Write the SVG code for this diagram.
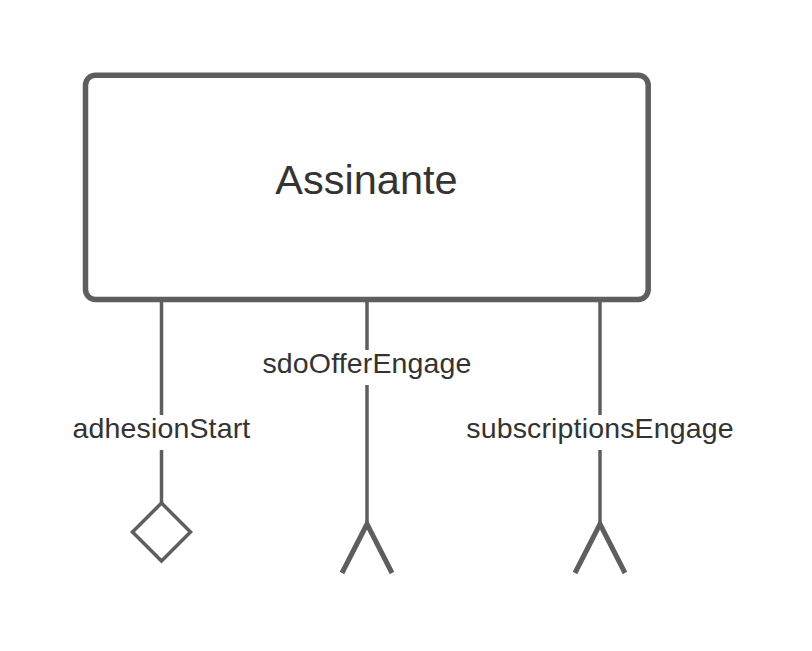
<svg xmlns="http://www.w3.org/2000/svg" width="812" height="651" viewBox="0 0 812 651">
<style>
.box{fill:#ffffff;stroke:#5e5e5e;stroke-width:5.5}
.ln{fill:none;stroke:#5e5e5e;stroke-width:3.5}
.fork{fill:none;stroke:#5e5e5e;stroke-width:5;stroke-linejoin:miter}
.dia{fill:#ffffff;stroke:#5e5e5e;stroke-width:3.5}
.t{font-family:"Liberation Sans",Arial,sans-serif;fill:#333333;text-anchor:middle}
.lbl{font-size:28.5px;letter-spacing:0.15px}
.bg{fill:#ffffff}
</style>
<rect width="812" height="651" fill="#ffffff"/>
<g id="connectors">
  <g id="c-adhesionStart">
    <line class="ln" x1="161.5" y1="302" x2="161.5" y2="503"/>
    <polygon class="dia" points="161.5,503 190.5,532 161.5,561 132.5,532"/>
    <rect class="bg" x="72" y="415" width="180" height="35"/>
    <text class="t lbl" x="161.5" y="438">adhesionStart</text>
  </g>
  <g id="c-sdoOfferEngage">
    <line class="ln" x1="367" y1="302" x2="367" y2="524"/>
    <polyline class="fork" points="342,573 367,524 392,573"/>
    <rect class="bg" x="258" y="350" width="218" height="35"/>
    <text class="t lbl" x="367" y="373">sdoOfferEngage</text>
  </g>
  <g id="c-subscriptionsEngage">
    <line class="ln" x1="600" y1="302" x2="600" y2="524"/>
    <polyline class="fork" points="575,573 600,524 625,573"/>
    <rect class="bg" x="462" y="415" width="276" height="35"/>
    <text class="t lbl" x="600" y="438">subscriptionsEngage</text>
  </g>
</g>
<g id="node-assinante">
  <rect class="box" x="85.5" y="75.2" width="562.7" height="224.3" rx="10" ry="10"/>
  <text class="t" x="366.5" y="194" font-size="41.5">Assinante</text>
</g>
</svg>
